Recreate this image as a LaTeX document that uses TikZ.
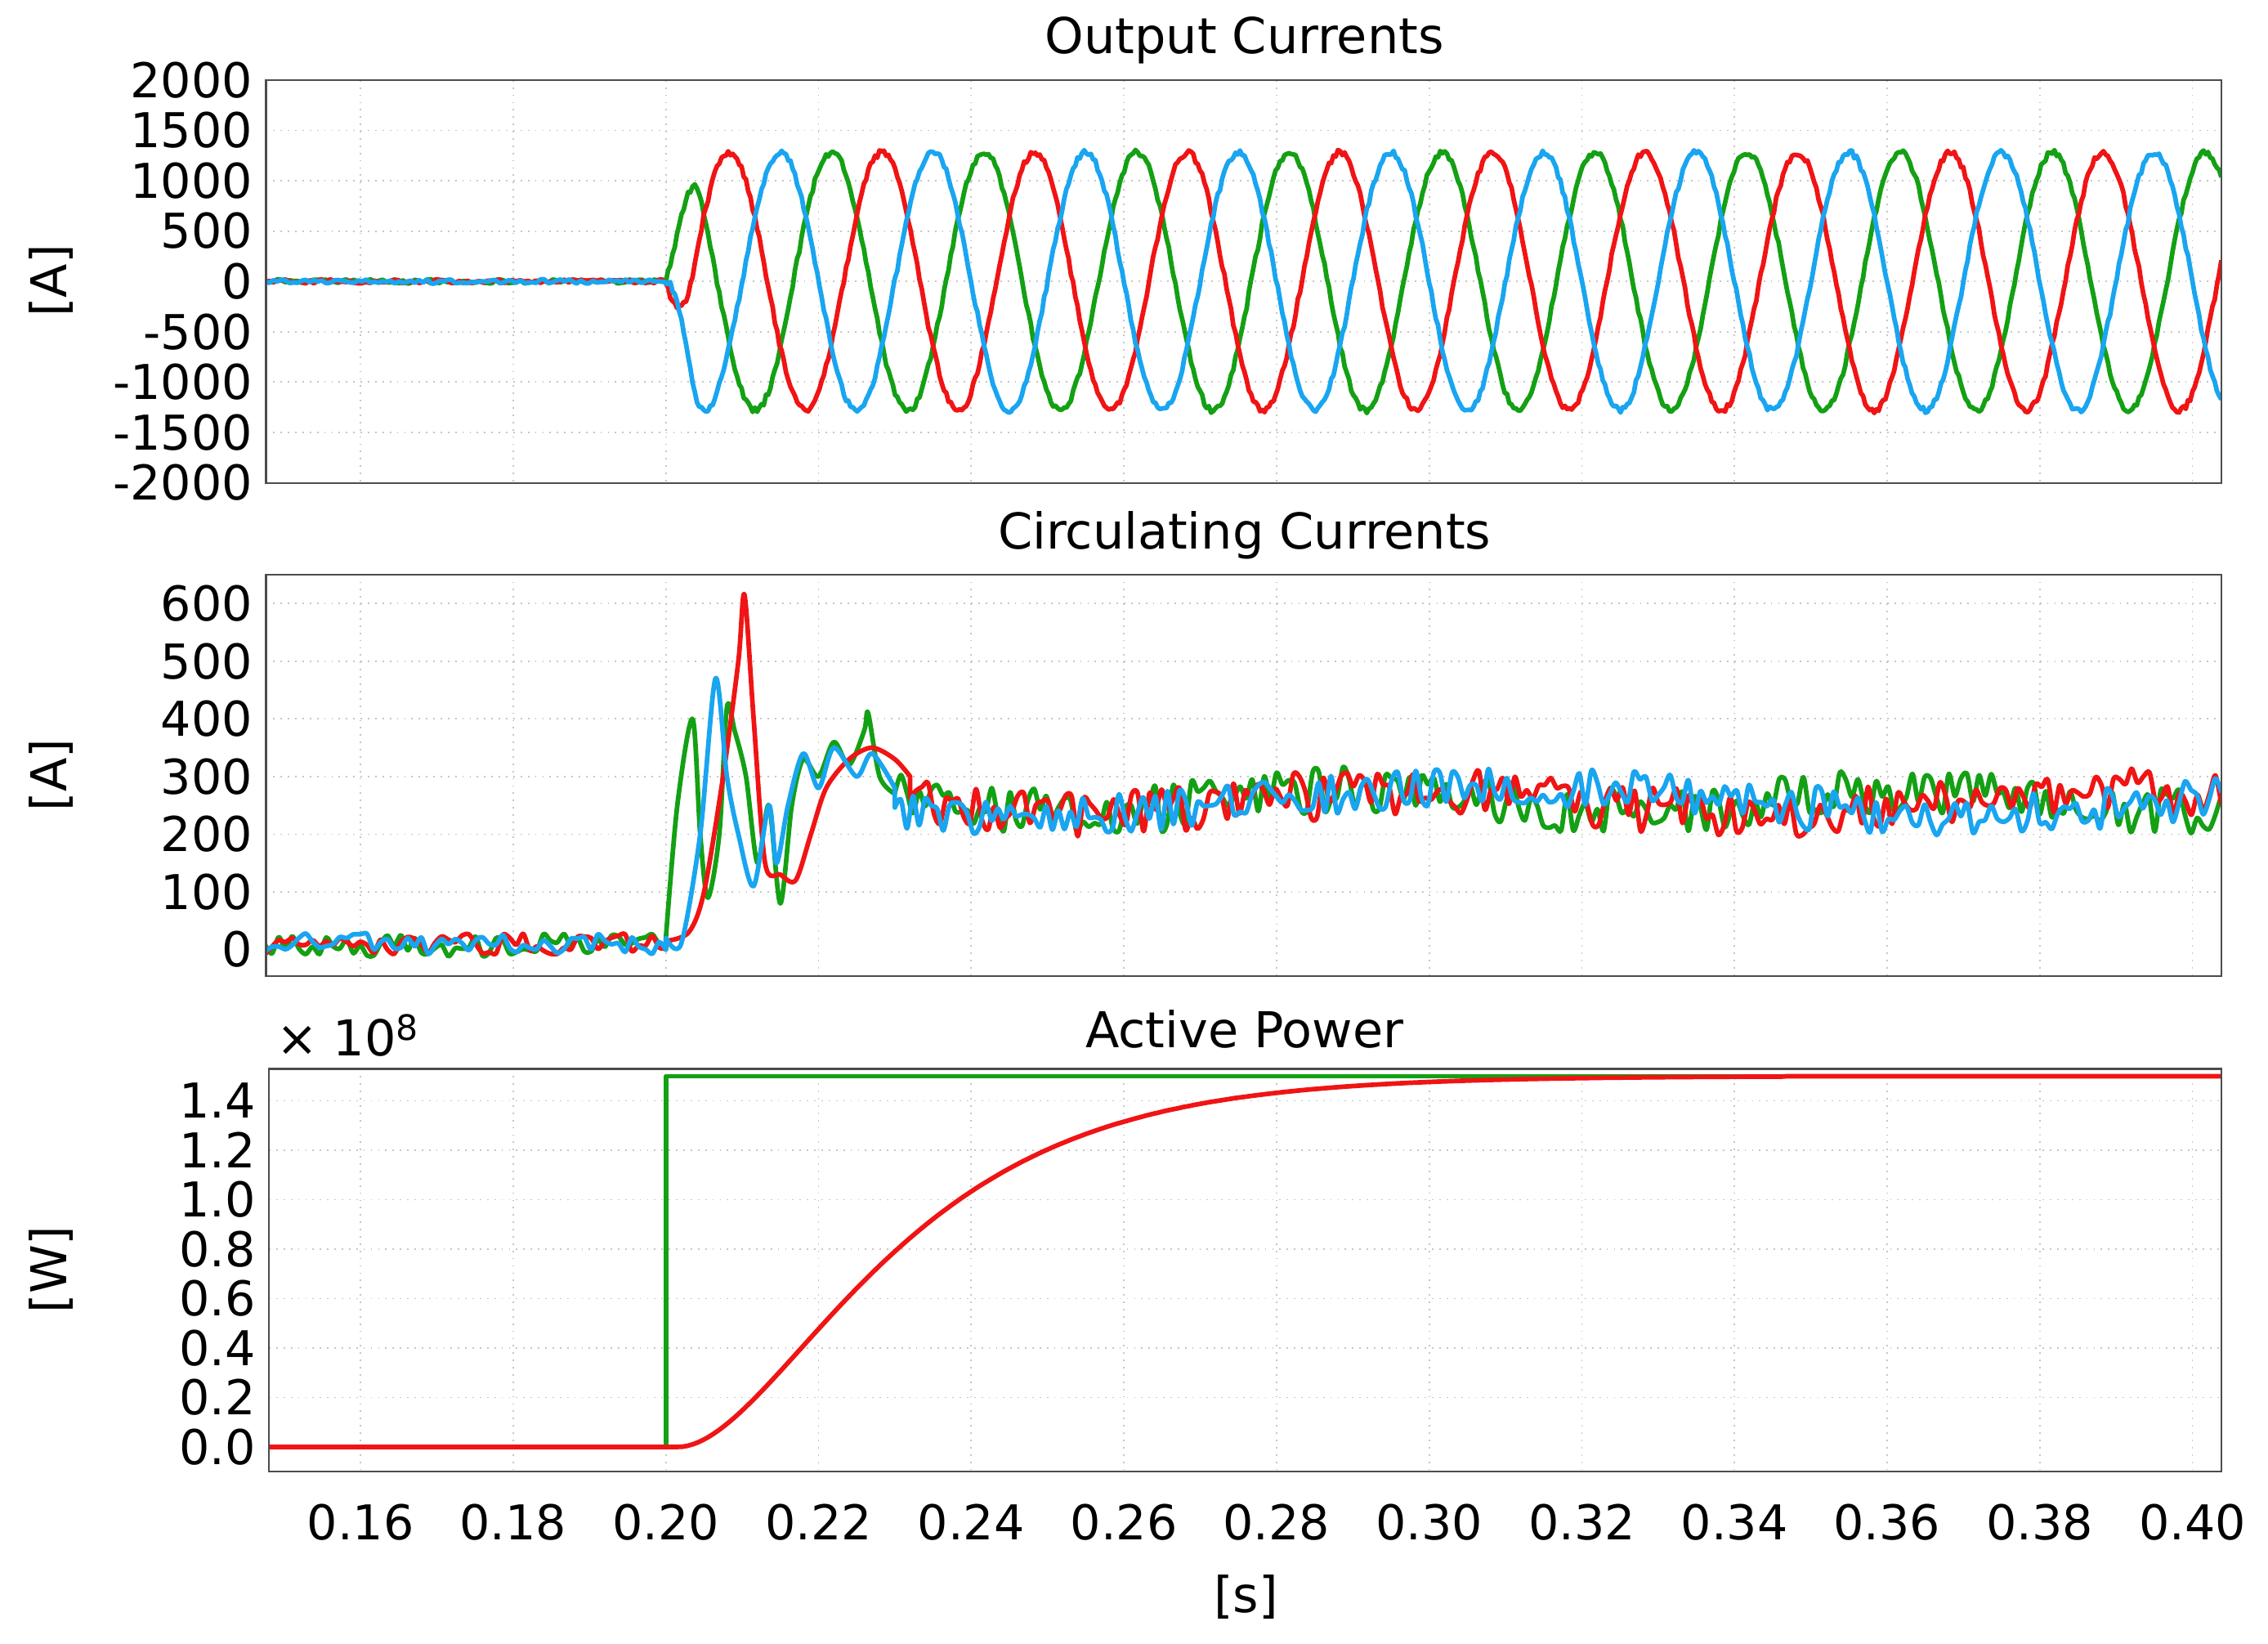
\documentclass[tikz,border=0pt]{standalone}
\usepackage{fontspec}
\setmainfont{DejaVu Sans}
\begin{document}
\begin{tikzpicture}[x=0.5pt,y=-0.5pt,
  grd/.style={gray!45,dotted,line width=0.5pt},
  frame/.style={draw=black!70,line width=0.6pt},
  tl/.style={font=\fontsize{16.5}{16.5}\selectfont,inner sep=1pt},
  ttl/.style={font=\fontsize{17}{17}\selectfont},
  gc/.style={draw={rgb,255:red,20;green,160;blue,20},line width=1.6pt,line join=round},
  rc/.style={draw={rgb,255:red,240;green,20;blue,20},line width=1.6pt,line join=round},
  bc/.style={draw={rgb,255:red,25;green,165;blue,240},line width=1.6pt,line join=round}]
\useasboundingbox (0,0) rectangle (1560,1130);
\pgfmathsetseed{7}
% grids
\foreach \t in {16,18,...,40}{
  \pgfmathsetmacro\xx{458+(\t-20)*52.5}
  \draw[grd] (\xx,55)--(\xx,332); \draw[grd] (\xx,395)--(\xx,671); \draw[grd] (\xx,735)--(\xx,1012);
  \node[tl] (xt\t) at (\xx,1047) {0.\t};
}
\foreach \v in {-1500,-1000,...,1500}{\pgfmathsetmacro\yy{193.5-\v*0.06925}\draw[grd] (183,\yy)--(1528,\yy);}
\foreach \v in {-2000,-1500,...,2000}{\pgfmathsetmacro\yy{193.5-\v*0.06925}\node[tl,anchor=east] at (176,\yy) {\v};}
\foreach \v in {100,200,...,600}{\pgfmathsetmacro\yy{653-\v*0.3967}\draw[grd] (183,\yy)--(1528,\yy);}
\foreach \v in {0,100,...,600}{\pgfmathsetmacro\yy{653-\v*0.3967}\node[tl,anchor=east] at (176,\yy) {\v};}
\foreach \v in {2,4,...,14}{\pgfmathsetmacro\yy{995-\v*17}\draw[grd] (185,\yy)--(1528,\yy);}
\foreach \v/\s in {0/0.0,2/0.2,4/0.4,6/0.6,8/0.8,10/1.0,12/1.2,14/1.4}{\pgfmathsetmacro\yy{995-\v*17}\node[tl,anchor=east] at (178,\yy) {\s};}
% panel 1 curves (x in ms after 0.2 s)
\begin{scope}
\clip (183,55) rectangle (1528,332);
\begin{scope}[shift={(458,193.5)},xscale=5.25,yscale=-0.06925]
\foreach \ph/\st in {21.7/gc,28.3/rc,35/bc}{
 \draw[\st] plot[domain=-52.5:0,samples=100,smooth] (\x,{20*rand})
  -- plot[domain=0:203.8,samples=700] (\x,{1280*min(1,\x/4)*cos(18*(\x-\ph))+30*rand});
}
\end{scope}
\end{scope}
% panel 2 curves
\begin{scope}
\clip (183,395) rectangle (1528,671);
\begin{scope}[shift={(458,653)},xscale=5.25,yscale=-0.3967]
\draw[gc] plot[domain=-52.5:0,samples=60,smooth] (\x,{8+20*rand})
 -- plot[smooth] coordinates {(0,20)(1.5,250)(3.5,400)(4.5,200)(5.5,90)(7,200)(8,420)(9,380)(10.5,300)(12,150)(13.5,250)(15,80)(16.5,250)(18,330)(20,300)(22,360)(24,320)(26,380)(26.5,410)(28,300)(30,270)}
 -- plot[domain=30:203.8,samples=220,smooth] (\x,{258+20*sin(5*\x)+40*rand});
\draw[rc] plot[domain=-52.5:0,samples=60,smooth] (\x,{10+18*rand})
 -- plot[smooth] coordinates {(0,15)(3,30)(5,100)(7.5,300)(9.5,500)(10.3,615)(11.5,400)(13,150)(15,130)(17,120)(19,200)(21,280)(24,330)(27,350)(30,330)(32,300)}
 -- plot[domain=32:203.8,samples=220,smooth] (\x,{255+20*sin(4*\x+60)+40*rand});
\draw[bc] plot[domain=-52.5:0,samples=60,smooth] (\x,{10+18*rand})
 -- plot[smooth] coordinates {(0,20)(2,10)(4.5,200)(6.5,470)(8,300)(9.5,200)(11.5,110)(13.5,250)(14.5,150)(16,250)(18,340)(20,280)(22,350)(25,300)(27,340)(30,280)}
 -- plot[domain=30:203.8,samples=220,smooth] (\x,{258+25*sin(3*\x+120)+35*rand});
\end{scope}
\end{scope}
% panel 3 curves
\begin{scope}
\clip (185,735) rectangle (1528,1012);
\begin{scope}[shift={(458,995)},xscale=5.25,yscale=-17]
\draw[gc] (-60,0)--(0,0)--(0,15)--(210,15);
\draw[rc] (-60,0)--(1.5,0)-- plot[domain=1.5:203.8,samples=300] (\x,{15*(1-(1+0.062*(\x-1.5))*exp(-0.062*(\x-1.5)))});
\end{scope}
\end{scope}
% frames
\draw[frame] (183,55) rectangle (1528,332);
\draw[frame] (183,395) rectangle (1528,671);
\draw[frame] (185,735) rectangle (1528,1012);
% titles and labels
\node[ttl] (t1) at (856,28) {Output Currents};
\node[ttl] (t2) at (856,368) {Circulating Currents};
\node[ttl] (t3) at (856,708) {Active Power};
\node[ttl,rotate=90] (y1) at (35,193) {[A]};
\node[ttl,rotate=90] (y2) at (35,533) {[A]};
\node[ttl,rotate=90] (y3) at (35,873) {[W]};
\node[ttl] (xs) at (857,1098) {[s]};
\node[ttl,anchor=west] (ex) at (183,712) {× 10\raisebox{0.6ex}{\fontsize{12}{12}\selectfont 8}};
\end{tikzpicture}
\end{document}
